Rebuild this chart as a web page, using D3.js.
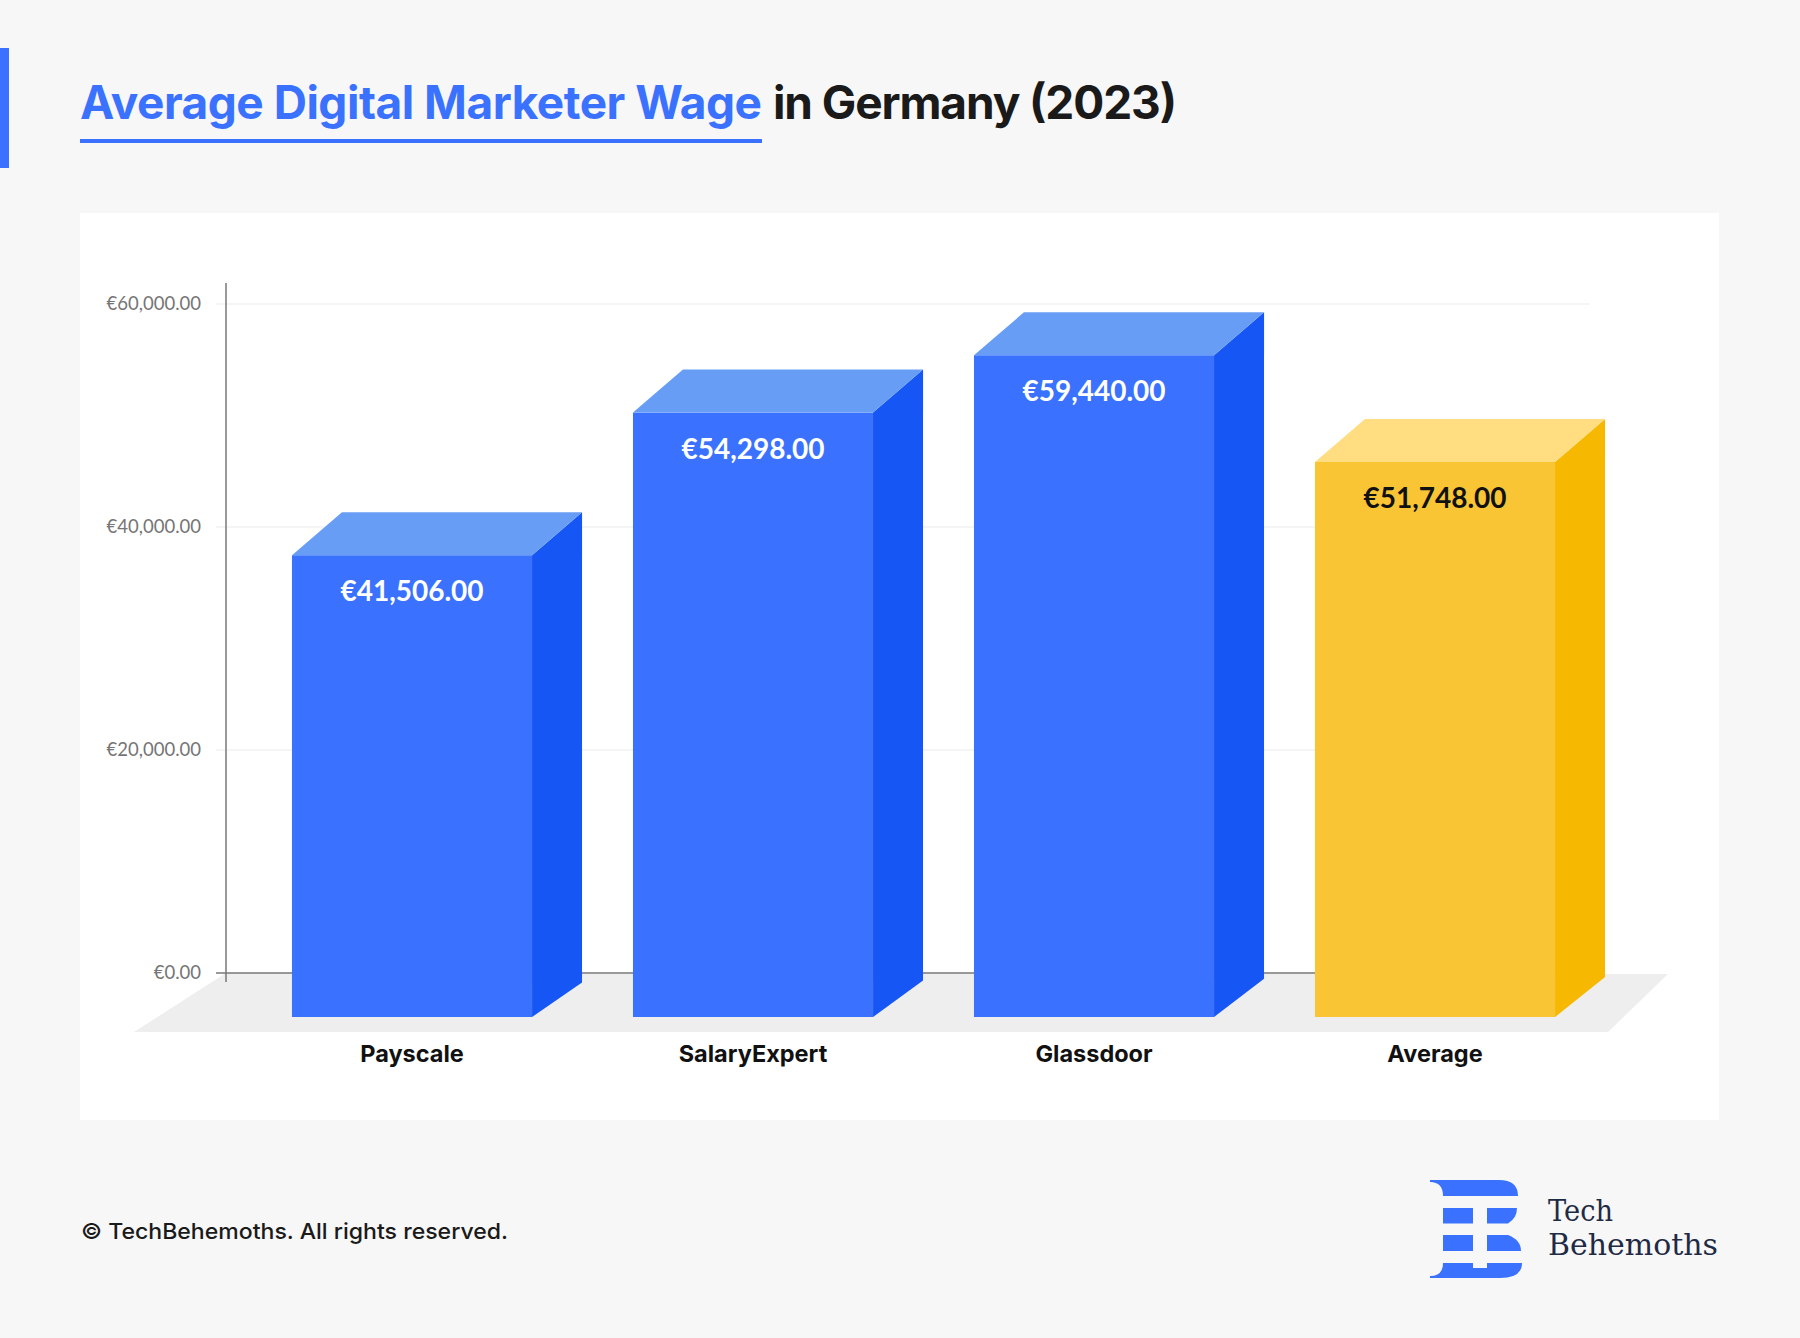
<!DOCTYPE html>
<html><head><meta charset="utf-8">
<script src="https://cdn.jsdelivr.net/npm/d3@7"></script>
<style>html,body{margin:0;padding:0;background:#f7f7f7;} svg{display:block}</style>
</head><body>
<svg id="c" width="1800" height="1338"></svg>
<script>
// ---- data ----
const categories = ["Payscale", "SalaryExpert", "Glassdoor", "Average"];
const values = [41506, 54298, 59440, 51748];          // label values
const drawnValues = [41506, 54298, 59440, 49870];     // bar heights as pictured
const yTickValues = [0, 20000, 40000, 60000];
const yTickLabels = ["€0.00", "€20,000.00", "€40,000.00", "€60,000.00"];
const titleBlue = "Average Digital Marketer Wage";
const titleBlack = "in Germany (2023)";
const footer = "© TechBehemoths. All rights reserved.";

// ---- styles ----
const palette = {
  blue:   {front: "#3a72ff", side: "#1656f5", top: "#679df5", label: "#ffffff"},
  yellow: {front: "#f9c535", side: "#f6b800", top: "#ffdd80", label: "#111111"}
};
const barStyle = ["blue", "blue", "blue", "yellow"];

const svg = d3.select("#c");
svg.append("rect").attr("width", 1800).attr("height", 1338).attr("fill", "#f7f7f7");

function fit(sel, target, mode) {
  sel.attr("textLength", target).attr("lengthAdjust", mode || "spacing");
}

// accent bar
svg.append("rect").attr("x", 0).attr("y", 48).attr("width", 9).attr("height", 120).attr("fill", "#3a72ff");

// title
const t1 = svg.append("text").attr("x", 80).attr("y", 119)
  .attr("font-family", "Inter").attr("font-weight", 700).attr("font-size", 46)
  .attr("fill", "#3a72ff").text(titleBlue);
fit(t1, 682);
const t2 = svg.append("text").attr("x", 773).attr("y", 119)
  .attr("font-family", "Inter").attr("font-weight", 700).attr("font-size", 46)
  .attr("fill", "#1a1a1a").text(titleBlack);
fit(t2, 404);
svg.append("rect").attr("x", 80).attr("y", 139).attr("width", 682).attr("height", 4).attr("fill", "#3a72ff");

// panel
svg.append("rect").attr("x", 80).attr("y", 213).attr("width", 1639).attr("height", 907).attr("fill", "#ffffff");

// scales
const y = d3.scaleLinear().domain([0, 60000]).range([973, 304]);
const x = d3.scaleBand().domain(categories).range([241.5, 1605.5]).paddingInner(0.296).paddingOuter(0.148);
const axisX = 226, gridX0 = 216, gridX1 = 1590;
const depthX = 50, depthY = 43, frontDrop = 44;

// floor
const y0 = y(0);
svg.append("polygon")
  .attr("points", [[axisX, y0], [1668, y0 + 1], [1608, y0 + 59], [134, y0 + 59]].map(p => p.join(",")).join(" "))
  .attr("fill", "#eeeeee");

// gridlines
svg.append("g").selectAll("line").data(yTickValues.filter(d => d > 0)).join("line")
  .attr("x1", gridX0).attr("x2", gridX1).attr("y1", d => y(d)).attr("y2", d => y(d))
  .attr("stroke", "#f2f2f2").attr("stroke-width", 1.5);

// axis labels via d3 axis
const axis = d3.axisLeft(y).tickValues(yTickValues).tickFormat((d, i) => yTickLabels[i])
  .tickSize(0).tickPadding(25);
const ag = svg.append("g").attr("transform", `translate(${axisX},0)`).call(axis);
ag.select(".domain").remove();
ag.selectAll("text").attr("font-family", "Lato").attr("font-size", 18.5).attr("fill", "#757575");

// zero line + axis line
svg.append("line").attr("x1", gridX0).attr("x2", gridX1).attr("y1", y0).attr("y2", y0)
  .attr("stroke", "#777777").attr("stroke-width", 1.5);
svg.append("line").attr("x1", axisX).attr("x2", axisX).attr("y1", 283).attr("y2", y0 + 9)
  .attr("stroke", "#777777").attr("stroke-width", 1.5);

// bars
const bottom = y0 + frontDrop;
const w = x.bandwidth();
const bars = svg.append("g").selectAll("g").data(categories).join("g");
bars.each(function (c, i) {
  const g = d3.select(this);
  const col = palette[barStyle[i]];
  const xf = x(c);
  const yb = y(drawnValues[i]) + 2;
  const yf = yb + depthY;
  const dyb = -34.6 - (xf + w - 532) * 0.00528;
  g.append("rect").attr("x", xf).attr("y", yf).attr("width", w).attr("height", bottom - yf).attr("fill", col.front);
  g.append("polygon")
    .attr("points", [[xf + w, yf], [xf + w + depthX, yb], [xf + w + depthX, bottom + dyb], [xf + w, bottom]].map(p => p.join(",")).join(" "))
    .attr("fill", col.side);
  g.append("polygon")
    .attr("points", [[xf, yf], [xf + w, yf], [xf + w + depthX, yb], [xf + depthX, yb]].map(p => p.join(",")).join(" "))
    .attr("fill", col.top);
  g.append("text").attr("x", xf + w / 2).attr("y", yf + 46).attr("text-anchor", "middle")
    .attr("font-family", "Lato").attr("font-weight", 700).attr("font-size", 28)
    .attr("fill", col.label).text("€" + d3.format(",.2f")(values[i]));
  g.append("text").attr("x", xf + w / 2).attr("y", 1062).attr("text-anchor", "middle")
    .attr("font-family", "Inter").attr("font-weight", 700).attr("font-size", 23.5)
    .attr("fill", "#111111").text(c);
});

// footer
const ft = svg.append("text").attr("x", 81).attr("y", 1239)
  .attr("font-family", "Inter").attr("font-weight", 500).attr("font-size", 22).attr("fill", "#1a1a1a").text(footer);
fit(ft, 427, "spacingAndGlyphs");

// logo
const lg = svg.append("g").attr("fill", "#3a72ff");
lg.append("path").attr("d", "M1430,1180 H1499 Q1518,1180 1518,1196 H1443 Q1443,1182 1430,1182 Z");
lg.append("rect").attr("x", 1443).attr("y", 1208).attr("width", 30).attr("height", 15.5);
lg.append("path").attr("d", "M1487,1208 H1517 Q1517,1218 1508,1223.5 H1487 Z");
lg.append("rect").attr("x", 1443).attr("y", 1235).attr("width", 30).attr("height", 16);
lg.append("path").attr("d", "M1487,1235 H1508 Q1521,1240 1521,1251 H1487 Z");
lg.append("path").attr("d", "M1443,1263 H1473 V1268 H1487 V1263 H1522 Q1522,1278 1500,1278 H1430 V1276 Q1443,1276 1443,1263 Z");
svg.append("text").attr("x", 1548).attr("y", 1221).attr("font-family", "DejaVu Serif")
  .attr("font-size", 30).attr("fill", "#1f2a44").attr("textLength", 65).attr("lengthAdjust", "spacingAndGlyphs").text("Tech");
svg.append("text").attr("x", 1548).attr("y", 1255).attr("font-family", "DejaVu Serif")
  .attr("font-size", 30).attr("fill", "#1f2a44").attr("textLength", 170).attr("lengthAdjust", "spacingAndGlyphs").text("Behemoths");
</script>
</body></html>
